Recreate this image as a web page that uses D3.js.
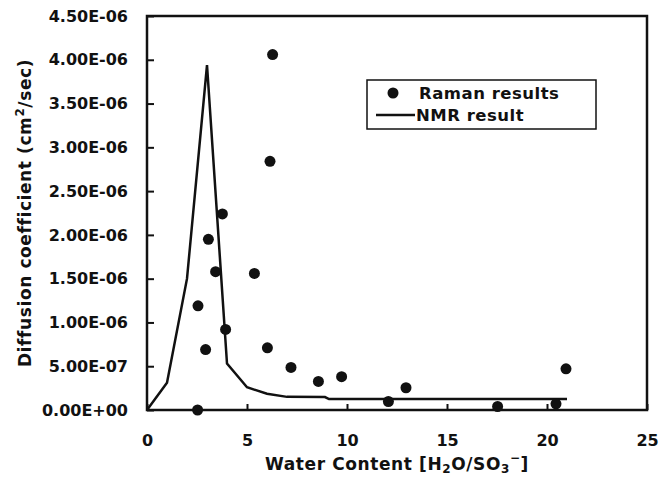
<!DOCTYPE html>
<html>
<head>
<meta charset="utf-8">
<script src="https://cdn.jsdelivr.net/npm/d3@7"></script>
<style>
    body { margin: 0; background: #fff; }
    text { font-family: "DejaVu Sans", sans-serif; font-weight: bold; fill: #111; }
</style>
</head>
<body>
<div id="chart-area"></div>
<script>

// Raman results (scatter)
var ramanX = [2.53, 2.55, 2.93, 3.07, 3.43, 3.77, 3.93, 5.37, 6.02, 6.15, 6.28, 7.2, 8.57, 9.73, 12.07, 12.95, 17.53, 20.45, 20.95];
var ramanY = [0.0, 1.19e-6, 0.69e-6, 1.95e-6, 1.58e-6, 2.24e-6, 0.92e-6, 1.56e-6, 0.71e-6, 2.84e-6, 4.06e-6, 0.486e-6, 0.326e-6, 0.38e-6, 0.097e-6, 0.254e-6, 0.04e-6, 0.07e-6, 0.47e-6];

// NMR result (line)
var nmrX = [0, 1, 2, 3, 4, 5, 6, 7, 8.9, 9.1, 21];
var nmrY = [0, 0.31e-6, 1.5e-6, 3.94e-6, 0.53e-6, 0.26e-6, 0.185e-6, 0.15e-6, 0.148e-6, 0.125e-6, 0.125e-6];

// Ticks
var xTicks = [0, 5, 10, 15, 20, 25];
var yTicks = [0, 0.5e-6, 1e-6, 1.5e-6, 2e-6, 2.5e-6, 3e-6, 3.5e-6, 4e-6, 4.5e-6];
var yTickLabels = ["0.00E+00", "5.00E-07", "1.00E-06", "1.50E-06", "2.00E-06", "2.50E-06", "3.00E-06", "3.50E-06", "4.00E-06", "4.50E-06"];

var margin = { left: 147, right: 22, top: 16, bottom: 69 };

var width = 669 - margin.left - margin.right,
    height = 479 - margin.top - margin.bottom;

var svg = d3.select("#chart-area")
    .append("svg")
        .attr("width", 669)
        .attr("height", 479);

var g = svg.append("g")
        .attr("transform", "translate(" + margin.left + ", " + margin.top + ")");

// Scales
var x = d3.scaleLinear()
        .domain([0, 25])
        .range([0, width]);

var y = d3.scaleLinear()
        .domain([0, 4.5e-6])
        .range([height, 0]);

// Axes (ticks point inward)
var xAxisCall = d3.axisBottom(x)
        .tickValues(xTicks)
        .tickSizeInner(-6)
        .tickSizeOuter(0)
        .tickPadding(25);

var yAxisCall = d3.axisLeft(y)
        .tickValues(yTicks)
        .tickSizeInner(-7)
        .tickSizeOuter(0)
        .tickPadding(19)
        .tickFormat(function(d, i){ return yTickLabels[i]; });

var xAxisGroup = g.append("g")
        .attr("class", "x axis")
        .attr("transform", "translate(0," + height + ")")
        .call(xAxisCall);

var yAxisGroup = g.append("g")
        .attr("class", "y axis")
        .call(yAxisCall);

g.selectAll(".axis path").remove();
g.selectAll(".axis line")
    .attr("stroke", "#111")
    .attr("stroke-width", 2);
g.selectAll(".axis text")
    .attr("font-size", "16px")
    .attr("font-family", "DejaVu Sans, sans-serif")
    .attr("font-weight", "bold")
    .attr("fill", "#111");

// Plot frame
g.append("rect")
    .attr("x", 0)
    .attr("y", 0)
    .attr("width", width)
    .attr("height", height)
    .attr("fill", "none")
    .attr("stroke", "#111")
    .attr("stroke-width", 2.5);

// NMR line
var nmrData = nmrX.map(function(d, i){ return { x: d, y: nmrY[i] }; });
var line = d3.line()
    .x(function(d){ return x(d.x); })
    .y(function(d){ return y(d.y); });

g.append("path")
    .datum(nmrData)
    .attr("d", line)
    .attr("fill", "none")
    .attr("stroke", "#111")
    .attr("stroke-width", 2.5)
    .attr("stroke-linejoin", "miter");

// Raman points
var ramanData = ramanX.map(function(d, i){ return { x: d, y: ramanY[i] }; });
g.selectAll("circle")
    .data(ramanData)
    .enter()
    .append("circle")
        .attr("cx", function(d){ return x(d.x); })
        .attr("cy", function(d){ return y(d.y); })
        .attr("r", 5.5)
        .attr("fill", "#111");

// Legend
var legend = svg.append("g")
    .attr("transform", "translate(367, 80)");

legend.append("rect")
    .attr("width", 229)
    .attr("height", 49)
    .attr("fill", "#fff")
    .attr("stroke", "#111")
    .attr("stroke-width", 1.5);

legend.append("circle")
    .attr("cx", 26)
    .attr("cy", 13)
    .attr("r", 5.5)
    .attr("fill", "#111");

legend.append("text")
    .attr("x", 52)
    .attr("y", 19)
    .attr("font-size", "16.5px")
    .attr("letter-spacing", "0.5px")
    .text("Raman results");

legend.append("line")
    .attr("x1", 9)
    .attr("x2", 48)
    .attr("y1", 35)
    .attr("y2", 35)
    .attr("stroke", "#111")
    .attr("stroke-width", 2.5);

legend.append("text")
    .attr("x", 49)
    .attr("y", 41)
    .attr("font-size", "16.5px")
    .attr("letter-spacing", "0.5px")
    .text("NMR result");

// X Label
var xLabel = svg.append("text")
    .attr("x", margin.left + width / 2)
    .attr("y", 470)
    .attr("font-size", "17px")
    .attr("letter-spacing", "0.6px")
    .attr("text-anchor", "middle");
xLabel.append("tspan").text("Water Content [H");
xLabel.append("tspan").attr("font-size", "12px").attr("dy", 3).text("2");
xLabel.append("tspan").attr("dy", -3).text("O/SO");
xLabel.append("tspan").attr("font-size", "12px").attr("dy", 3).text("3");
xLabel.append("tspan").attr("font-size", "12px").attr("dy", -11).text("\u2212");
xLabel.append("tspan").attr("dy", 8).text("]");

// Y Label
var yLabel = svg.append("text")
    .attr("transform", "translate(31," + (margin.top + height / 2) + ") rotate(-90)")
    .attr("font-size", "17px")
    .attr("letter-spacing", "0.6px")
    .attr("text-anchor", "middle");
yLabel.append("tspan").text("Diffusion coefficient (cm");
yLabel.append("tspan").attr("font-size", "12px").attr("dy", -7).text("2");
yLabel.append("tspan").attr("dy", 7).text("/sec)");

</script>
</body>
</html>
